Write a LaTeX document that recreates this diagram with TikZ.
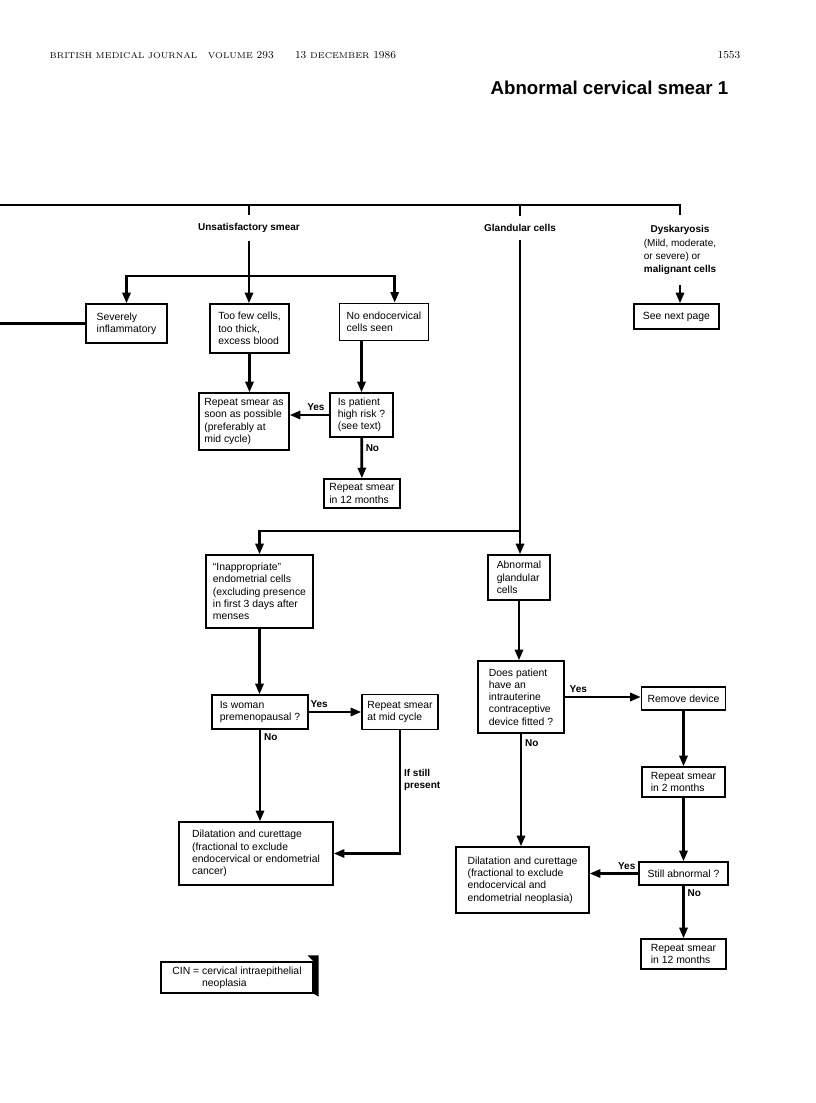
\documentclass[tikz,border=0pt]{standalone}
\usepackage{fontspec}
\setsansfont{Liberation Sans}
\usepackage{tikz}
\usetikzlibrary{arrows.meta, positioning, calc}
\newcommand{\smcap}[1]{{\fontsize{6.3}{8}\selectfont #1}}

\begin{document}
\begin{tikzpicture}[
    x=0.75pt, y=-0.75pt,
    every node/.style={font=\sffamily\fontsize{7.8}{9.2}\selectfont, align=left},
    box/.style={draw, line width=0.9pt, inner sep=2pt},
    head/.style={font=\sffamily\bfseries\fontsize{7.5}{10}\selectfont, align=center, inner xsep=2pt, inner ysep=6pt},
    lbl/.style={font=\sffamily\bfseries\fontsize{7.5}{9}\selectfont, inner sep=2pt},
    arr/.style={-{Triangle[length=8pt, width=6pt]}, line width=2.1pt},
    link/.style={line width=2.1pt}
]
\useasboundingbox (0,0) rectangle (816,1103);

% Page header and title
\node[anchor=base west, font=\rmfamily\fontsize{8}{10}\selectfont] (journal) at (45,58)
    {\smcap{BRITISH MEDICAL JOURNAL}\quad \smcap{VOLUME} 293\qquad 13 \smcap{DECEMBER} 1986};
\node[anchor=base east, font=\rmfamily\fontsize{8}{10}\selectfont] (pageno) at (745,58) {1553};
\node[anchor=east, font=\sffamily\bfseries\fontsize{14}{16}\selectfont] (title) at (733,88) {Abnormal cervical smear 1};

% Result headings
\node[head] (unsat) at (249,228) {Unsatisfactory smear};
\node[head] (gland) at (520,228) {Glandular cells};
\node[head, font=\sffamily\fontsize{7.5}{10}\selectfont] (dysk) at (680,250) {%
    \begin{tabular}{@{}l@{}}
    \multicolumn{1}{@{}c@{}}{\textbf{Dyskaryosis}}\\
    (Mild, moderate,\\
    or severe) or\\
    \textbf{malignant cells}
    \end{tabular}};

% Unsatisfactory smear branch
\node[box, minimum width=60.75pt, minimum height=29.25pt] (severe) at (126.5,323.5) {Severely\\inflammatory};
\node[box, minimum width=59.25pt, minimum height=36.75pt] (toofew) at (249.5,328.5) {Too few cells,\\too thick,\\excess blood};
\node[box, minimum width=67pt, minimum height=28pt] (noendo) at (384,322) {No endocervical\\cells seen};
\node[box, minimum width=67.5pt, minimum height=42.75pt] (asap) at (244,421.5) {Repeat smear as\\soon as possible\\(preferably at\\mid cycle)};
\node[box, minimum width=47.25pt, minimum height=33pt] (highrisk) at (361.5,415) {Is patient\\high risk ?\\(see text)};
\node[box, minimum width=57pt, minimum height=21.75pt] (rep12a) at (362,493.5) {Repeat smear\\in 12 months};

% Dyskaryosis
\node[box, minimum width=63.75pt, minimum height=18.75pt] (nextpg) at (676.5,316.5) {See next page};

% Glandular cells branch
\node[box, minimum width=80.25pt, minimum height=54.75pt] (inapp) at (259.5,591.5) {“Inappropriate”\\endometrial cells\\(excluding presence\\in first 3 days after\\menses};
\node[box, minimum width=72pt, minimum height=25.5pt] (premeno) at (260,712) {Is woman\\premenopausal ?};
\node[box, minimum width=57pt, minimum height=26.25pt] (midcyc) at (400,712) {Repeat smear\\at mid cycle};
\node[box, minimum width=115.5pt, minimum height=47.25pt] (dcone) at (256,853.5) {Dilatation and curettage\\(fractional to exclude\\endocervical or endometrial\\cancer)};
\node[box, minimum width=46.5pt, minimum height=33.75pt] (abngl) at (519,577.5) {Abnormal\\glandular\\cells};
\node[box, minimum width=64.5pt, minimum height=54pt] (iud) at (521,697) {Does patient\\have an\\intrauterine\\contraceptive\\device fitted ?};
\node[box, minimum width=63pt, minimum height=17.25pt] (remove) at (683.5,698.5) {Remove device};
\node[box, minimum width=62.25pt, minimum height=22.5pt] (reptwo) at (683.5,782) {Repeat smear\\in 2 months};
\node[box, minimum width=66.75pt, minimum height=17.25pt] (still) at (683.5,873.5) {Still abnormal ?};
\node[box, minimum width=99.75pt, minimum height=49.5pt] (dctwo) at (522.5,880) {Dilatation and curettage\\(fractional to exclude\\endocervical and\\endometrial neoplasia)};
\node[box, minimum width=63.75pt, minimum height=22.5pt] (rep12b) at (683.5,954) {Repeat smear\\in 12 months};

% Abbreviation key
\node[box, minimum width=114pt, minimum height=23.25pt] (cin) at (237,977.5) {CIN = cervical intraepithelial\\\phantom{CIN = }neoplasia};
\fill ($(cin.north east)+(-6,-6)$) -- ($(cin.north east)+(5,-6)$) -- ($(cin.south east)+(5,3)$) -- (cin.south east) -- (cin.north east) -- cycle;

% Connectors
\coordinate (topleft) at (0,205);
\coordinate (sideleft) at (0,323.5);
\coordinate (ujoin) at (249,276);
\coordinate (gjoin) at (520,531);

\draw[link] (topleft) -| (dysk.north);
\draw[link] (unsat.north) -- (unsat.north |- topleft);
\draw[link] (gland.north) -- (gland.north |- topleft);
\draw[link] (unsat) -- (ujoin);
\draw[arr] (ujoin) -| (severe.north);
\draw[arr] (ujoin) -- (ujoin |- toofew.north);
\draw[arr] (ujoin) -| ([xshift=8pt]noendo.north);
\draw[link] (severe) -- (sideleft);
\draw[arr] (toofew) -- (toofew |- asap.north);
\draw[arr] (highrisk.north |- noendo.south) -- (highrisk);
\draw[arr] (highrisk) -- (highrisk -| asap.east) node[lbl, pos=0.34, above] {Yes};
\draw[arr] (highrisk) -- (rep12a) node[lbl, pos=0.25, right] {No};
\draw[arr] (dysk) -- (dysk |- nextpg.north);

\draw[link] (gland) -- (gjoin);
\draw[arr] (gjoin) -| (inapp);
\draw[arr] (gjoin) -- (gjoin |- abngl.north);
\draw[arr] (inapp) -- (inapp |- premeno.north);
\draw[arr] (premeno) -- (midcyc) node[lbl, pos=0.2, above] {Yes};
\draw[arr] (premeno) -- (premeno |- dcone.north) node[lbl, pos=0.08, right] {No};
\draw[arr] (midcyc) |- (dcone) node[lbl, pos=0.2, right] {If still\\present};
\draw[arr] (abngl) -- (abngl |- iud.north);
\draw[arr] (iud) -- (iud -| remove.west) node[lbl, pos=0.18, above] {Yes};
\draw[arr] (iud) -- (iud |- dctwo.north) node[lbl, pos=0.08, right] {No};
\draw[arr] (remove) -- (reptwo);
\draw[arr] (reptwo) -- (still);
\draw[arr] (still) -- (still -| dctwo.east) node[lbl, pos=0.24, above] {Yes};
\draw[arr] (still) -- (rep12b) node[lbl, pos=0.15, right] {No};

\end{tikzpicture}
\end{document}
